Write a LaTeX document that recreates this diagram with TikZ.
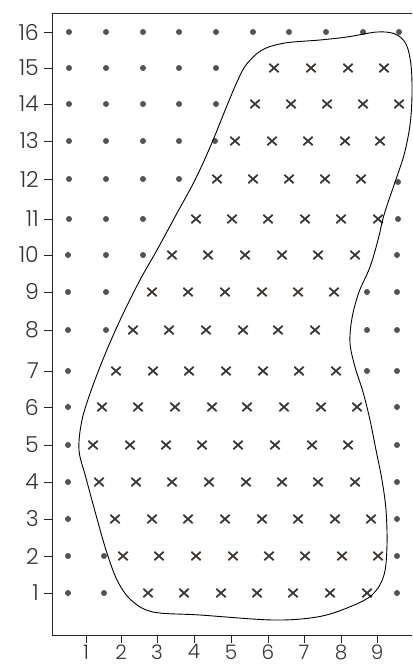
\documentclass[tikz,border=0pt]{standalone}
\usepackage{fontspec}
\IfFontExistsTF{Poppins Light}{\setmainfont{Poppins Light}}{\setmainfont{Poppins}}
\usetikzlibrary{shapes.misc}
\definecolor{dotgray}{HTML}{555250}
\definecolor{xgray}{HTML}{3B3632}
\begin{document}
\begin{tikzpicture}[x=1pt,y=-1pt,
  dot/.style={circle,fill=dotgray,inner sep=0,minimum size=6pt},
  xmark/.style={cross out,draw=xgray,line width=1.8pt,inner sep=0,minimum width=7.5pt,minimum height=6.5pt},
  frame/.style={draw=black!85,line width=0.9pt},
  tickline/.style={draw=black!85,line width=0.8pt},
  lab/.style={font=\fontsize{22}{22}\selectfont,text=black!80,inner sep=0},
  xlab/.style={lab,font=\fontsize{20}{20}\selectfont},
  boundary/.style={draw=black,line width=0.9pt}]
\useasboundingbox (0,0) rectangle (412,666);
% frame
\coordinate (tr) at (412,13);
\coordinate (tl) at (52,13);
\coordinate (bl) at (52,635);
\coordinate (br) at (412,635);
\draw[frame] (tr) -- (tl) -- (bl) -- (br);
% y ticks and labels
\foreach \r/\yy in {16/32,15/68,14/104,13/141,12/179,11/219,10/255,9/292,8/330,7/371,6/407,5/445,4/482,3/519,2/556,1/593}{
  \coordinate (yt-\r) at (44,\yy);
  \coordinate (ya-\r) at (52,\yy);
  \draw[tickline] (yt-\r) -- (ya-\r);
  \node[lab,anchor=east] (yl-\r) at (39,\yy) {\r};
}
% x ticks and labels
\foreach \c/\xx in {1/86,2/121,3/157,4/194,5/231,6/268,7/304,8/341,9/377}{
  \coordinate (xa-\c) at (\xx,635);
  \coordinate (xt-\c) at (\xx,643);
  \draw[tickline] (xa-\c) -- (xt-\c);
  \node[xlab,anchor=north] (xl-\c) at (\xx,644.5) {\c};
}
% dots
\foreach \yy/\xs in {32/{69,106,143,179,216,253,289,326,363,399},
  68/{69,106,143,179,216},
  104/{69,106,143,179,216},
  141/{69,106,143,179,215},
  179/{69,106,143,179},
  182/{398},
  219/{69,106,143,398},
  255/{68,106,143,397},
  292/{68,106,367,397},
  330/{68,106,367,397},
  371/{68,367,397},
  407/{68,397},
  445/{68,397},
  482/{68,397},
  519/{68,397},
  556/{68,104,397},
  593/{68,104,397}}{
  \foreach \xx in \xs {
    \node[dot] (d-\xx-\yy) at (\xx,\yy) {};
  }
}
% crosses
\foreach \yy/\xs in {68/{274,311,348,384},
  104/{255,291,327,363,399},
  141/{235,272,308,345,380},
  179/{217,253,289,325,361},
  219/{196,232,268,305,341,378},
  255/{172,208,245,282,318,355},
  292/{152,188,225,262,298,334},
  330/{133,169,206,243,278,315},
  371/{116,153,189,226,263,299,336},
  407/{102,138,175,212,247,284,321,357},
  445/{93,130,166,202,238,275,312,348},
  482/{99,136,172,209,246,282,318,355},
  519/{115,152,188,225,262,298,335,371},
  556/{123,159,196,233,269,305,342,378},
  593/{148,184,221,257,293,330,367}}{
  \foreach \xx in \xs {
    \node[xmark] (x-\xx-\yy) at (\xx,\yy) {};
  }
}
% boundary
\draw[boundary] plot[smooth cycle,tension=0.55] coordinates {
  (246,65) (262,50) (285,43) (320,40) (347,37) (377,32) (395,34)
  (406,44) (411,65) (412,95) (410,125) (404,155) (394,185)
  (384,215) (378,240) (370,267) (359,292) (352,318) (350,343) (355,367)
  (363,392) (370,420) (376,450) (382,480) (386,510) (387,545)
  (384,575) (372,595) (347,608) (317,617) (273,620) (200,615) (153,612)
  (131,600) (117,580) (106,550) (96,515) (86,478) (79,450)
  (82,420) (92,388) (106,352) (122,316) (140,280) (157,250)
  (176,215) (195,180) (211,145) (226,108) (237,82)};
\end{tikzpicture}
\end{document}
